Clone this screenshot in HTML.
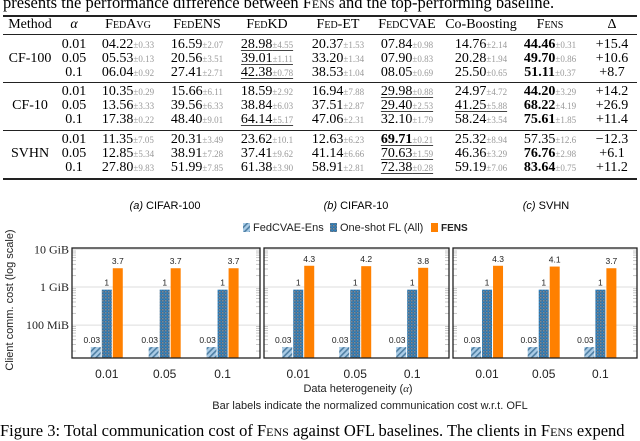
<!DOCTYPE html>
<html><head><meta charset="utf-8">
<style>
body{margin:0;width:640px;height:429px;overflow:hidden;background:#fff;position:relative;font-family:"Liberation Serif",serif;}
.a{position:absolute;white-space:nowrap;}
.c{transform:translateX(-50%);}
.sc{font-variant:small-caps;}
.sd{font-size:9px;color:#999;}
.rule{position:absolute;left:3px;width:634px;background:#222;}
.u{text-decoration:underline;text-decoration-color:#444;text-decoration-thickness:1px;text-underline-offset:2px;}
.sans{font-family:"Liberation Sans",sans-serif;}
</style></head><body>
<div class="a" style="left:3px;top:-7px;font-size:16.5px;">presents the performance difference between <span class="sc">Fens</span> and the top-performing baseline.</div>
<div class="rule" style="top:15px;height:1.5px"></div>
<div class="rule" style="top:34px;height:1px"></div>
<div class="rule" style="top:82px;height:1px"></div>
<div class="rule" style="top:130px;height:1px"></div>
<div class="rule" style="top:178px;height:1.5px"></div>
<div id="tbl"></div>
<div class="a c sans" style="left:165px;top:200px;font-size:11px"><i>(a)</i> CIFAR-100</div>
<div class="a c sans" style="left:356px;top:200px;font-size:11px"><i>(b)</i> CIFAR-10</div>
<div class="a c sans" style="left:546px;top:200px;font-size:11px"><i>(c)</i> SVHN</div>
<svg id="ch" width="640" height="429" style="position:absolute;left:0;top:0">
<defs>
<pattern id="hatch" width="4" height="4" patternUnits="userSpaceOnUse" patternTransform="rotate(45)">
<rect width="4" height="4" fill="#a9cbe6"/><rect width="1.6" height="4" fill="#4f7fa3"/></pattern>
<pattern id="check" width="3" height="3" patternUnits="userSpaceOnUse">
<rect width="3" height="3" fill="#3f6f95"/><rect width="1.5" height="1.5" fill="#7a8a98"/><rect x="1.5" y="1.5" width="1.5" height="1.5" fill="#2f86c6"/></pattern>
</defs>
</svg>
<div class="a" style="left:0px;top:421px;font-size:16.5px;">Figure 3: Total communication cost of <span class="sc">Fens</span> against OFL baselines. The clients in <span class="sc">Fens</span> expend</div>
<script>
// ---- table data ----
const tblCols=["FedAvg","FedENS","FedKD","Fed-ET","FedCVAE","Co-Boosting","Fens"];
const datasets=["CF-100","CF-10","SVHN"];
const alphas=["0.01","0.05","0.1"];
const means=[
 [["04.22","16.59","28.98","20.37","07.84","14.76","44.46"],["05.53","20.56","39.01","33.20","07.90","20.28","49.70"],["06.04","27.41","42.38","38.53","08.05","25.50","51.11"]],
 [["10.35","15.66","18.59","16.94","29.98","24.97","44.20"],["13.56","39.56","38.84","37.51","29.40","41.25","68.22"],["17.38","48.40","64.14","47.06","32.10","58.24","75.61"]],
 [["11.35","20.31","23.62","12.63","69.71","25.32","57.35"],["12.85","38.91","37.41","41.14","70.63","46.36","76.76"],["27.80","51.99","61.38","58.91","72.38","59.19","83.64"]]];
const stds=[
 [["0.33","2.07","4.55","1.53","0.98","2.14","0.31"],["0.13","3.51","1.11","1.34","0.83","1.94","0.86"],["0.92","2.71","0.78","1.04","0.69","0.65","0.37"]],
 [["0.29","6.11","2.92","7.88","0.88","4.72","3.29"],["3.33","6.33","6.03","2.87","2.53","5.88","4.19"],["0.22","9.01","5.17","2.31","1.79","3.54","1.85"]],
 [["7.05","3.49","10.1","6.23","0.21","8.94","12.6"],["5.34","7.28","9.62","6.66","1.59","3.29","2.98"],["9.83","7.85","3.90","2.81","0.28","7.06","0.75"]]];
const deltas=[["+15.4","+10.6","+8.7"],["+14.2","+26.9","+11.4"],["\u221212.3","+6.1","+11.2"]];
const underl=[[[0,2],[1,2],[2,2]],[[0,4],[1,4],[2,2],[1,5]],[[0,4],[1,4],[2,4]]];
const bolds=[[[0,6],[1,6],[2,6]],[[0,6],[1,6],[2,6]],[[0,4],[1,6],[2,6]]];
const colX=[128,197,267,338,407,481,550];
const rowY0=[45,92,140];
const T=document.getElementById('tbl');
function add(html,x,y,cls,name){const d=document.createElement('div');d.className='a c '+(cls||'');d.style.left=x+'px';d.style.top=(y-9)+'px';d.style.fontSize='14px';d.style.lineHeight='17px';d.innerHTML=html;


T.appendChild(d);return d;}
add('Method',30,25,'','header-method');
add('<i>α</i>',74,25,'','header-alpha');
const hdr=["FedAvg","FedENS","FedKD","Fed-ET","FedCVAE","Co-Boosting","Fens"];
hdr.forEach((h,i)=>add(h,colX[i],25,i==5?'':'sc','header-'+h.toLowerCase()));
add('Δ',612,25,'','header-delta');
datasets.forEach((ds,d)=>{
 add(ds,30,rowY0[d]+14,'','dataset-'+ds.toLowerCase());
 alphas.forEach((a,r)=>{
  const y=rowY0[d]+r*14;
  add(a,74,y,'','alpha-'+ds.toLowerCase()+'-'+r);
  tblCols.forEach((c,k)=>{
   const isB=bolds[d].some(p=>p[0]==r&&p[1]==k), isU=underl[d].some(p=>p[0]==r&&p[1]==k);
   let m=isB?'<b>'+means[d][r][k]+'</b>':means[d][r][k];
   let h=m+'<span class="sd">±'+stds[d][r][k]+'</span>';
   const dv=add(h,colX[k],y,'','cell-'+ds.toLowerCase()+'-'+c.toLowerCase()+'-'+r);
   if(isU) dv.classList.add('u');
  });
  add(deltas[d][r],612,y,'','delta-'+ds.toLowerCase()+'-'+r);
 });
});
// ---- chart data ----
const groups=["0.01","0.05","0.1"];
const series=["FedCVAE-Ens","One-shot FL (All)","Fens"];
const oneshotGiB=[[0.85,0.85,0.85],[0.85,0.85,0.85],[0.85,0.85,0.85]];
const labelsCvae=[[0.03,0.03,0.03],[0.03,0.03,0.03],[0.03,0.03,0.03]];
const labelsFens=[[3.7,3.7,3.7],[4.3,4.2,3.8],[4.3,4.1,3.7]];
const yTicks=[{v:10,t:"10 GiB"},{v:1,t:"1 GiB"},{v:100/1024,t:"100 MiB"}];
const panels=[[72,260],[264,449],[453,637]];
const yTop=248,yBot=358;
const NS="http://www.w3.org/2000/svg",S=document.getElementById('ch');
function el(t,at,name){const e=document.createElementNS(NS,t);for(const k in at)e.setAttribute(k,at[k]);


S.appendChild(e);return e;}
function yS(g){return 287-(Math.log10(g))*37.7;}
panels.forEach((p,pi)=>{
 const [x0,x1]=p,w=x1-x0;
 yTicks.forEach(t=>{el('line',{x1:x0,x2:x1,y1:yS(t.v),y2:yS(t.v),stroke:'#ddd','stroke-width':1},'gridline');});
 for(let e=-2;e<=1;e++)for(let m=2;m<=9;m++){const y=yS(Math.pow(10,e)*m);if(y>yTop&&y<yBot){
  el('line',{x1:x0,x2:x0+4,y1:y,y2:y,stroke:'#bbb','stroke-width':0.8},'minor-tick');
  el('line',{x1:x1-4,x2:x1,y1:y,y2:y,stroke:'#bbb','stroke-width':0.8},'minor-tick');}}
 const xS=i=>x0+w*(0.185+i*0.308);
 groups.forEach((g,i)=>{
  const cx=xS(i),bw=10;
  const vals=[oneshotGiB[pi][i]*labelsCvae[pi][i],oneshotGiB[pi][i],oneshotGiB[pi][i]*labelsFens[pi][i]];
  const labs=[labelsCvae[pi][i],1,labelsFens[pi][i]];
  const fills=['url(#hatch)','url(#check)','#ff8000'];
  vals.forEach((v,s)=>{
   const bx=cx-bw/2+(s-1)*(bw+1),ty=yS(v);
   el('rect',{x:bx,y:ty,width:bw,height:yBot-ty,fill:fills[s]},'bar-'+series[s].toLowerCase().replace(/[^a-z]+/g,'-')+'-'+g);
   const tx=el('text',{x:bx+bw/2+(s==0?-4:0),y:ty-4,'text-anchor':'middle','font-size':8.5,fill:'#222','font-family':'Liberation Sans, sans-serif'},'bar-label');tx.textContent=labs[s];
  });
  const tl=el('text',{x:cx,y:378,'text-anchor':'middle','font-size':12,fill:'#222','font-family':'Liberation Sans, sans-serif'},'x-tick-label');tl.textContent=g;
 });
 el('rect',{x:x0,y:yTop,width:w,height:yBot-yTop,fill:'none',stroke:'#222','stroke-width':1.3},'panel-frame');
});
yTicks.forEach(t=>{const tx=el('text',{x:69,y:yS(t.v)+4,'text-anchor':'end','font-size':12,fill:'#222','font-family':'Liberation Serif, serif'},'y-tick-label');tx.textContent=t.t;});
const yl=el('text',{x:0,y:0,transform:'translate(13,300) rotate(-90)','text-anchor':'middle','font-size':11,fill:'#222','font-family':'Liberation Sans, sans-serif'},'y-axis-title');yl.textContent='Client comm. cost (log scale)';
const xl=el('text',{x:358,y:392,'text-anchor':'middle','font-size':11,fill:'#222','font-family':'Liberation Sans, sans-serif'},'x-axis-title');xl.innerHTML='Data heterogeneity (<tspan font-style="italic" font-family="Liberation Serif, serif">α</tspan>)';
const nt=el('text',{x:370,y:409,'text-anchor':'middle','font-size':11,fill:'#222','font-family':'Liberation Sans, sans-serif'},'chart-note');nt.textContent='Bar labels indicate the normalized communication cost w.r.t. OFL';
const leg=[[243,'url(#hatch)','FedCVAE-Ens'],[330,'url(#check)','One-shot FL (All)'],[431,'#ff8000','FENS']];
leg.forEach(l=>{el('rect',{x:l[0],y:223,width:7,height:9,fill:l[1]},'legend-swatch');
 const t=el('text',{x:l[0]+10,y:231,'font-size':l[2]=='FENS'?10:11,'font-weight':l[2]=='FENS'?'bold':'normal',fill:'#222','font-family':'Liberation Sans, sans-serif'},'legend-entry');t.textContent=l[2];});
</script>
</body></html>
